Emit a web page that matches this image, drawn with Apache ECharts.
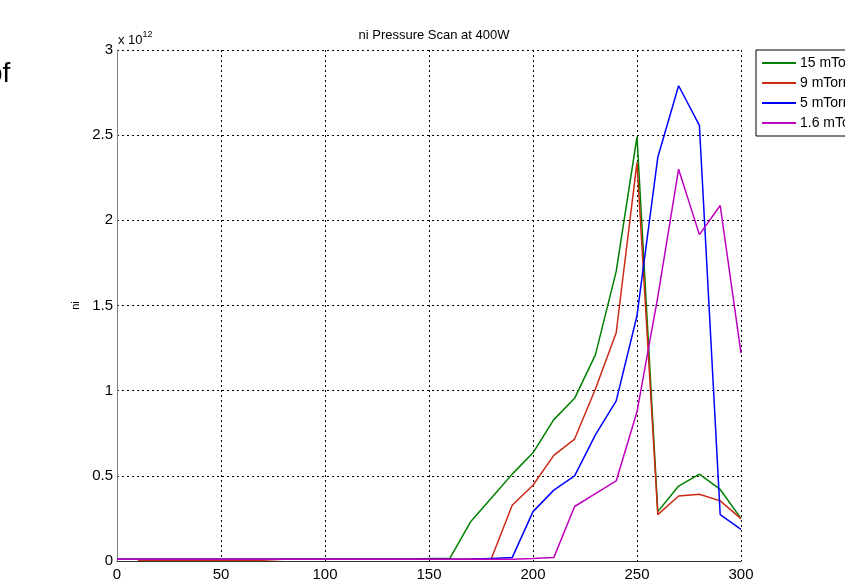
<!DOCTYPE html>
<html>
<head>
<meta charset="utf-8">
<script src="https://cdn.jsdelivr.net/npm/echarts@6/dist/echarts.min.js"></script>
<style>html,body{margin:0;padding:0;background:#fff;}#c{width:845px;height:585px;}</style>
</head>
<body>
<div id="c"></div>
<script>
// x positions (0..300 step 10), values in units of 1e12
const xValues = [0,10,20,30,40,50,60,70,80,90,100,110,120,130,140,150,160,170,180,190,200,210,220,230,240,250,260,270,280,290,300];
const seriesNames = ['15 mTorr','9 mTorr','5 mTorr','1.6 mTorr'];
const ni15 = [0.01,0.01,0.01,0.01,0.01,0.01,0.01,0.01,0.01,0.01,0.01,0.01,0.01,0.01,0.01,0.015,0.015,0.23,0.37,0.51,0.635,0.83,0.955,1.21,1.70,2.49,0.29,0.44,0.51,0.42,0.25];
const ni9  = [null,0.004,0.004,0.004,0.004,0.004,0.004,0.004,0.01,0.01,0.01,0.01,0.01,0.01,0.01,0.01,0.01,0.012,0.015,0.327,0.445,0.62,0.716,1.01,1.34,2.34,0.272,0.382,0.392,0.353,0.249];
const ni5  = [0.01,0.01,0.01,0.01,0.01,0.01,0.01,0.01,0.01,0.01,0.01,0.01,0.01,0.01,0.01,0.01,0.01,0.01,0.015,0.02,0.29,0.416,0.5,0.74,0.94,1.44,2.37,2.79,2.557,0.272,0.186];
const ni16 = [0.01,0.01,0.01,0.01,0.01,0.01,0.01,0.01,0.01,0.01,0.01,0.01,0.01,0.01,0.01,0.01,0.01,0.01,0.01,0.01,0.014,0.02,0.32,0.396,0.47,0.876,1.55,2.30,1.916,2.087,1.22];
const colors = ['#008000','#cc2a14','#0000ff','#bf00bf'];

const allData = [ni15, ni9, ni5, ni16];
const chart = echarts.init(document.getElementById('c'));
const font = 'Liberation Sans, Arial, sans-serif';
chart.setOption({
  animation: false,
  backgroundColor: '#fff',
  title: {
    text: 'ni Pressure Scan at 400W',
    left: 429, top: 24, textAlign: 'center',
    textStyle: {fontSize: 13, fontWeight: 'normal', color: '#000', fontFamily: font}
  },
  grid: {left: 117, right: 104, top: 50, bottom: 24},
  legend: {
    data: seriesNames,
    orient: 'vertical', left: 756, top: 50,
    icon: 'rect', itemWidth: 34, itemHeight: 2, itemGap: 6,
    padding: [6, 60, 6, 6],
    borderColor: '#000', borderWidth: 1, backgroundColor: '#fff',
    textStyle: {fontSize: 14, color: '#000', fontFamily: font, padding: [0,0,0,-1]}
  },
  xAxis: {
    type: 'value', min: 0, max: 300, interval: 50,
    axisLine: {show: true, onZero: false, lineStyle: {color: '#333', width: 1}},
    axisTick: {show: false},
    axisLabel: {fontSize: 15, color: '#000', fontFamily: font, margin: 6},
    splitLine: {show: true, lineStyle: {color: '#000', type: [2,3], width: 1}}
  },
  yAxis: {
    type: 'value', min: 0, max: 3, interval: 0.5,
    name: 'ni', nameLocation: 'middle', nameGap: 34, nameRotate: 90,
    nameTextStyle: {fontSize: 11, color: '#000', fontFamily: font},
    axisLine: {show: true, lineStyle: {color: '#808080', width: 1}},
    axisTick: {show: false},
    axisLabel: {fontSize: 15, color: '#000', fontFamily: font, margin: 4,
      formatter: v => String(v)},
    splitLine: {show: true, lineStyle: {color: '#000', type: [2,3], width: 1}}
  },
  graphic: [
    {type: 'text', left: 118, top: 30, style: {
      text: '{a|x 10}{b|12}', fill: '#000',
      rich: {a: {fontSize: 13, fontFamily: font, verticalAlign: 'bottom'},
             b: {fontSize: 9, fontFamily: font, verticalAlign: 'top', padding: [0,0,8,0]}}
    }},
    {type: 'text', x: -13, y: 88, style: {
      text: 'of', fontSize: 28, fontFamily: font, fill: '#000', textVerticalAlign: 'bottom'
    }}
  ],
  series: seriesNames.map((n, i) => ({
    name: n, type: 'line',
    data: xValues.map((x, j) => [x, allData[i][j]]),
    showSymbol: false, symbol: 'none',
    lineStyle: {color: colors[i], width: 1.5},
    itemStyle: {color: colors[i]},
    connectNulls: false
  }))
});
</script>
</body>
</html>
